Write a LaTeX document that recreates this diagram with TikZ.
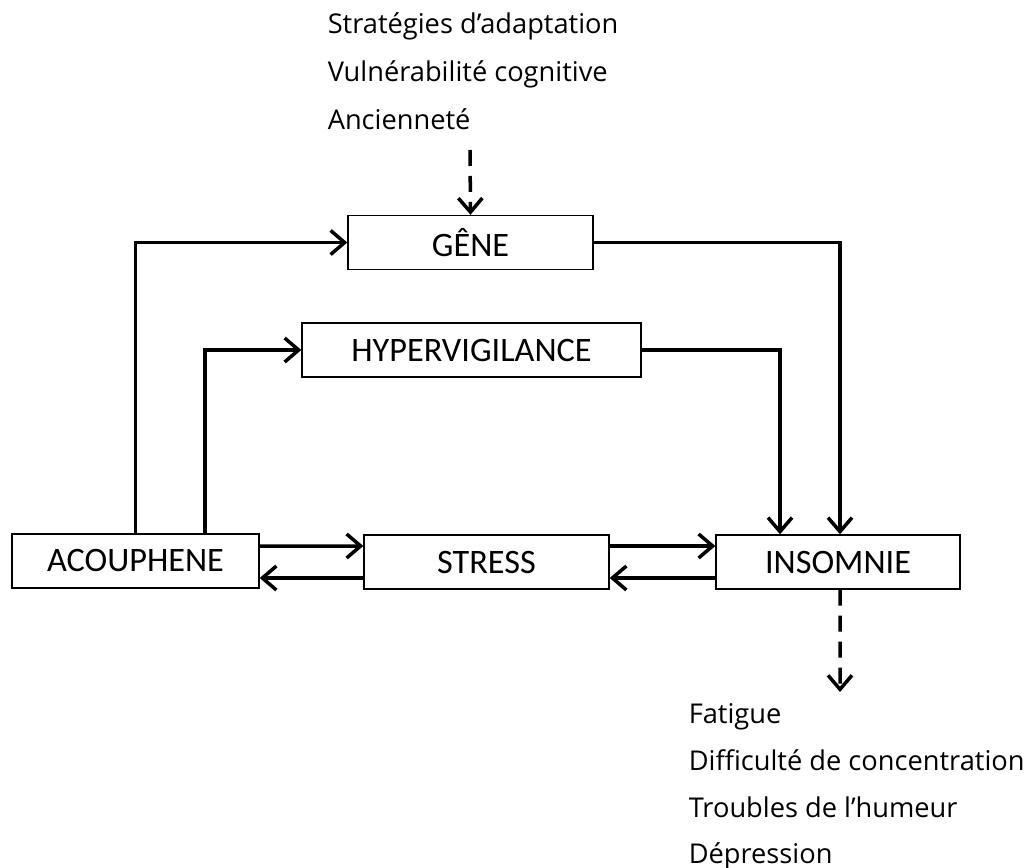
\documentclass[tikz,border=0pt]{standalone}
\usepackage{fontspec}
\newfontfamily\boxfont{Carlito}
\newfontfamily\listfont{Open Sans}
\usepackage{tikz}
\usetikzlibrary{arrows.meta,calc}

\begin{document}
\begin{tikzpicture}[x=0.02cm, y=-0.02cm, line width=2pt,
    >={Straight Barb[length=2.8mm,width=4.8mm]},
    box/.style={draw, line width=0.8pt, minimum height=1.08cm, inner sep=0pt, font=\boxfont\fontsize{19.5}{22}\selectfont},
    item/.style={anchor=base west, inner sep=0pt, font=\listfont\fontsize{15.5}{18}\selectfont},
    link/.style={dash pattern=on 0.32cm off 0.2cm}]
            \useasboundingbox (0,0) rectangle (1027,868);

            \node[box, minimum width=4.94cm] (acou) at (135.5, 561) {ACOUPHENE};
            \node[box, minimum width=4.9cm] (stress) at (486.5, 562) {STRESS};
            \node[box, minimum width=4.88cm] (insom) at (838, 562) {INSOMNIE};
            \node[box, minimum width=4.9cm] (gene) at (470.5, 242.5) {GÊNE};
            \node[box, minimum width=6.78cm] (hyper) at (471.5, 350) {HYPERVIGILANCE};

            \node[item] (strat) at (326, 34) {Stratégies d’adaptation};
            \node[item] (vuln) at (326, 82) {Vulnérabilité cognitive};
            \node[item] (anc) at (326, 130) {Ancienneté};

            \node[item] (fat) at (687, 723) {Fatigue};
            \node[item] (conc) at (687, 770) {Difficulté de concentration};
            \node[item] (hum) at (687, 817) {Troubles de l’humeur};
            \node[item] (dep) at (687, 863) {Dépression};

            \coordinate (top) at (470, 150);
            \coordinate (bot) at (840, 692);

            \draw[->] ([yshift=0.3cm]acou.east) -- ([yshift=0.32cm]stress.west);
            \draw[->] ([yshift=-0.32cm]stress.west) -- ([yshift=-0.34cm]acou.east);
            \draw[->] ([yshift=0.32cm]stress.east) -- ([yshift=0.32cm]insom.west);
            \draw[->] ([yshift=-0.32cm]insom.west) -- ([yshift=-0.32cm]stress.east);

            \draw[->] (acou.north) |- (gene.west);
            \draw[->] ([xshift=1.39cm]acou.north) |- (hyper.west);
            \draw[->] (gene.east) -| ([xshift=0.04cm]insom.north);
            \draw[->] (hyper.east) -| ([xshift=-1.16cm]insom.north);

            \draw[->, link] (top) -- (gene.north);
            \draw[->, link] ([xshift=0.04cm]insom.south) -- (bot);
        \end{tikzpicture}
\end{document}
